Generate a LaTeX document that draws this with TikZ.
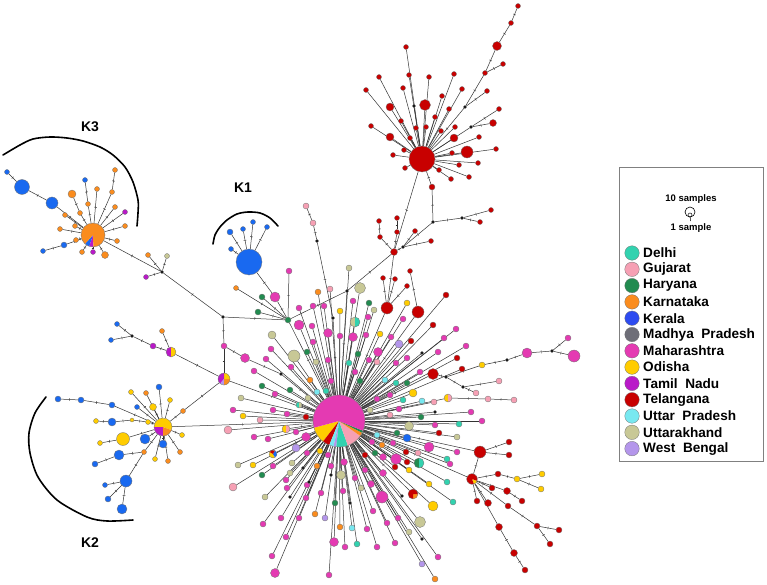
\documentclass[tikz,border=0pt]{standalone}
\usepackage{fontspec}
\setmainfont{Liberation Sans}
\usetikzlibrary{decorations.markings}
\pgfdeclarelayer{back}
\pgfdeclarelayer{bg}
\pgfsetlayers{back,bg,main}
\definecolor{mh}{RGB}{228,58,178}
\definecolor{tn}{RGB}{200,200,150}
\definecolor{gr}{RGB}{34,139,80}
\definecolor{pk}{RGB}{246,160,180}
\definecolor{yl}{RGB}{255,204,0}
\definecolor{tl}{RGB}{50,210,175}
\definecolor{cy}{RGB}{120,232,240}
\definecolor{lv}{RGB}{180,150,235}
\definecolor{rd}{RGB}{200,0,0}
\definecolor{og}{RGB}{250,140,30}
\definecolor{bl}{RGB}{25,105,240}
\definecolor{pu}{RGB}{185,25,200}
\definecolor{gy}{RGB}{110,110,120}
\definecolor{lgk}{RGB}{45,75,240}
\tikzset{
 nd/.style={circle,inner sep=0pt,draw=black!55,line width=0.3pt},
 ln/.style={draw=black!80,line width=0.5pt},
 lnt/.style={ln,postaction={decorate,decoration={markings,mark=at position 0.5 with {\draw[black!80,line width=0.4pt] (0,-1.4pt)--(0,1.4pt);}}}},
 arcline/.style={line width=1.6pt,line cap=round},
 klab/.style={font=\bfseries\fontsize{14}{16}\selectfont},
 legt/.style={anchor=west,font=\bfseries\fontsize{13.6}{15}\selectfont,inner sep=0pt},
 smallt/.style={font=\bfseries\fontsize{9.5}{11}\selectfont,inner sep=0pt},
}
\newcommand\hnode[5]{\node[nd,fill=#5,minimum size={2*#4}] (#1) at (#2,#3) {};}
\newcommand\hpie[5]{%
 \node[nd,draw=none,minimum size={2*#4}] (#1) at (#2,#3) {};
 \foreach \sa/\ea/\cc in {#5}{\fill[\cc] (#2,#3) -- ++(\sa:#4pt) arc[start angle=\sa,end angle=\ea,radius=#4pt] -- cycle;}
 \draw[black!55,line width=0.3pt] (#2,#3) circle[radius=#4pt];}
\def\mainlist{%
299/308/3/mh,313/306/3/mh,324/306/3/mh,318/292/3/og,330/289/3/pk,353/301/3/mh,340/311/3/yl,369/303/3/gr,374/310/3/tn,360/288/5.5/tn,349/268/3/tn,299/325/5/mh,312/326/3/mh,328/333/4.5/mh,368/317/3/mh,272/335/4/tn,313/342/3/mh,340/336/3/mh,353/337/4.5/mh,366/335/3/mh,380/334/3/yl,391/337/3/mh,399/344/4/lv,411/341/3/rd,444/338/3/mh,433/325/3/rd,403/319/3/mh,407/303/3/yl,%
266/359/3/mh,294/356/6/tn,307/352/3/gr,316/362/3/tn,328/360/3/mh,349/363/3/tl,358/354/3/gr,369/360/3/mh,378/352/4.5/mh,377/362/3/pk,396/363/3/mh,407/358/3/mh,438/352/3/mh,254/371/3/mh,291/367/3/mh,310/380/3/og,317/392/3/cy,326/391/3/tl,331/381/3/mh,355/372/3/mh,360/381/3/gr,385/380/3/cy,396/383/3/tl,407/383/3/gr,420/372/3/mh,262/386/3/gr,275/394/3/mh,290/390/3/gr,308/398/3/tn,377/399/3/mh,390/395/3/mh,403/400/3/tl,413/393/4/yl,422/401/3/cy,434/402/3/pk,370/410/3/tn,390/415/3/pk,399/409/3/mh,409/426/4.5/tn,421/417/3/gr,435/425/3/mh,260/420/3/pk,287/414/3/mh,306/417/3/rd,254/437/3/mh,268/439/3/mh,296/432/3/mh,306/437/4.5/mh,296/448/4/lv,253/465/3/yl,377/435/3/cy,397/433/3/gr,407/438/4/bl,429/447/5/mh,418/453/3/pk,447/459/3/tl,447/482/3/tl,383/457/3.5/mh,396/459/5.5/mh,365/455/3/rd,375/453/3/gr,407/462/3/rd,320/451/3/yl,292/463/3/tn,317/466/3/og,328/455/3/mh,344/462/3.5/mh,341/475/4.5/tn,355/478/3/mh,365/470/3/mh,383/473/3.5/mh,286/480/3/mh,262/475/3/gr,382/497/6/mh,429/484/3/yl,433/506/5/yl,%
273/466/3/mh,290/473/3/tn,307/453/3/mh,372/442/3/mh,382/445/3/og,393/443/3/mh,395/467/3/rd,406/452/3/rd,409/470/3/yl,331/466/3/mh,371/484/3.5/mh,361/488/3/tn,343/491/3/mh,321/493/3/mh,335/503/3/gr,307/485/3/mh,287/488/3/mh,265/497/3/tn,306/498/3/mh,420/522/5.5/tn,409/532/3/tn,398/518/3/mh,387/523/3/mh,373/511/3/mh,367/529/3/mh,377/547/3/mh,395/543/3/mh,357/544/3/tl,352/528/3/cy,345/547/3/mh,340/527/3/og,334/542/4.5/mh,329/575/3/mh,325/518/3/lv,315/514/3/og,299/518/3/mh,281/518/3/mh,263/524/3/mh,286/537/3/mh,272/556/3/mh,275/573/4.5/mh,422/564/3/lv,438/557/3/mh,435/579/3/og,%
271/349/3/mh,241/398/3/tn,233/410/3/mh,273/410/3/mh,243/416/3/yl,228/430/4/pk,238/465/3/tn,233/487/4/pk,%
446/295/3/rd,456/329/3/mh,466/346/3/mh,457/358/3/rd,462/369/3/rd,459/424/3/tl,471/412/3/mh,482/421/3/mh,457/437/3/tn,439/433/3/rd,457/452/3/mh,450/464/3/mh,453/502/3/tl,%
303/468/1.6/black,309/482/1.6/black,290/497/1.6/black,331/475/1.6/black,350/503/1.6/black,402/496/1.6/black,422/539/1.6/black,422/353/1.6/black,435/412/1.6/black}
\def\northlist{406/47/2.5/rd,409/75/2.5/rd,429/77/2.5/rd,454/74/2.5/rd,462/89/2.5/rd,379/77/2.5/rd,366/90/2.5/rd,403/88/2.5/rd,390/107/4/rd,425/105/5.5/rd,442/96/2.5/rd,449/109/2.5/rd,435/117/2.5/rd,401/121/2.5/rd,371/126/2.5/rd,390/137/4/rd,416/128/2.5/rd,426/127/2.5/rd,441/131/2.5/rd,410/138/2.5/rd,404/150/2.5/rd,393/155/2.5/rd,405/168/2.5/rd,479/137/2.5/rd,496/149/2.5/rd,467/152/6/rd,454/138/4/rd,452/153/2.5/rd,478/163/2.5/rd,459/165/2.5/rd,469/177/2.5/rd,451/179/2.5/rd,439/170/2.5/rd,455/127/2.5/rd,414/106/1.6/black}
\begin{document}
\begin{tikzpicture}[x=1pt,y=-1pt]
\begin{pgfonlayer}{back}\fill[white] (0,0) rectangle (767,585);\end{pgfonlayer}
\useasboundingbox (0,0) rectangle (767,585);
% main hub and pies
\hpie{H}{339}{421}{26}{195/232/yl,232/248/rd,248/258/cy,258/264/lv,264/290/tl,290/325/pk,325/333/og,333/338/gr,338/555/mh}
\hpie{q1}{286}{429}{4}{90/270/yl,270/450/pk}
\hpie{q2}{273}{454}{4}{150/300/yl,300/420/bl,60/150/rd}
\hpie{q3}{355}{322}{5}{90/270/tn,270/450/tl}
\hpie{q4}{299}{405}{3}{90/270/tl,270/450/tn}
\hpie{q5}{413}{494}{5}{-90/0/og,0/270/rd}
\hpie{q6}{419}{463}{5}{90/270/gr,270/450/tl}
\hpie{q7}{448}{398}{4}{90/270/yl,270/450/pk}
\foreach \x/\y/\r/\c [count=\i] in \mainlist {\node[nd,fill=\c,minimum size={2*\r}] (m\i) at (\x,\y) {};}
% K3
\hpie{K3h}{93}{235}{12}{228/252/bl,252/272/pu,272/588/og}
\hnode{a1}{7}{172}{2.5}{bl}\hnode{a2}{22}{187}{7.5}{bl}\hnode{a3}{52}{203}{6}{bl}
\hnode{a4}{115}{170}{2.5}{og}\hnode{a5}{112}{192}{2.5}{og}\hnode{a6}{97}{189}{2.5}{og}
\hnode{a7}{85}{180}{2.5}{bl}\hnode{a8}{88}{204}{2.5}{og}\hnode{a9}{72}{194}{4}{og}
\hnode{a10}{80}{213}{2.5}{og}\hnode{a11}{115}{207}{2.5}{og}\hnode{a12}{125}{212}{2.5}{pu}
\hnode{a13}{65}{215}{2.5}{og}\hnode{a14}{75}{226}{2.5}{og}\hnode{a15}{60}{229}{2.5}{og}
\hnode{a16}{125}{226}{2.5}{og}\hnode{a17}{76}{240}{2.5}{og}\hnode{a18}{117}{241}{2.5}{og}
\hnode{a19}{82}{252}{2.5}{og}\hnode{a20}{93}{252}{2.5}{pu}\hnode{a21}{105}{255}{3.5}{og}
\hnode{a22}{64}{245}{3}{bl}\hnode{a23}{43}{251}{2.5}{bl}
\hnode{b1}{162}{272}{1.6}{black}
\hnode{a24}{148}{255}{2.5}{og}\hnode{a25}{167}{256}{2.5}{tn}\hnode{a26}{146}{277}{2.5}{pu}
\hnode{b2}{223}{317}{1.6}{black}
% K1
\hnode{K1h}{249}{262}{13}{bl}
\hnode{c1}{230}{232}{3}{bl}\hnode{c2}{231}{249}{2.5}{bl}\hnode{c3}{243}{229}{2.5}{bl}
\hnode{c4}{253}{222}{2.5}{bl}\hnode{c5}{267}{227}{2.5}{bl}
\hnode{c6}{275}{297}{5}{mh}\hnode{J2}{288}{320}{3}{gr}
\hnode{c7}{236}{288}{2.5}{og}\hnode{c8}{262}{297}{3}{gr}\hnode{c9}{258}{312}{3}{gr}\hnode{c10}{289}{271}{3}{mh}
\hnode{b3}{347}{291}{1.6}{black}
% north
\hnode{R1}{394}{252}{3.5}{rd}
\hnode{d1}{379}{221}{2.5}{rd}\hnode{d2}{397}{218}{2.5}{rd}\hnode{d3}{397}{232}{2.5}{rd}\hnode{d4}{380}{237}{2.5}{rd}
\hnode{R2}{387}{308}{6}{rd}
\hnode{d5}{383}{278}{2.5}{rd}\hnode{d6}{395}{279}{2.5}{rd}\hnode{d7}{407}{286}{2.5}{rd}
\hnode{R3}{418}{312}{6}{rd}\hnode{d8}{410}{271}{2.5}{rd}
\hnode{d9}{432}{187}{3}{rd}\hnode{b4}{433}{222}{1.6}{black}\hnode{b5}{403}{247}{1.6}{black}
\hnode{d10}{415}{231}{2.5}{rd}\hnode{d11}{431}{241}{2.5}{rd}
\hnode{b6}{462}{218}{1.6}{black}\hnode{d12}{491}{210}{2.5}{rd}\hnode{d13}{480}{222}{2.5}{rd}
\hnode{e1}{306}{206}{3}{pk}\hnode{e2}{313}{223}{3}{pk}\hnode{b7}{317}{241}{1.6}{black}\hnode{b8}{333}{318}{1.6}{black}
\hnode{NH}{422}{159}{13}{rd}
\foreach \x/\y/\r/\c [count=\i] in \northlist {\node[nd,fill=\c,minimum size={2*\r}] (n\i) at (\x,\y) {};}
\hnode{h1}{518}{6}{2.5}{rd}\hnode{h2}{511}{23}{2.5}{rd}\hnode{h3}{497}{46}{4.5}{rd}
\hnode{h4}{503}{64}{2.5}{rd}\hnode{h5}{485}{73}{2.5}{rd}\hnode{b11}{465}{107}{1.6}{black}
\hnode{h6}{487}{91}{2.5}{rd}\hnode{b12}{471}{127}{1.6}{black}\hnode{h7}{499}{109}{2.5}{rd}\hnode{h8}{493}{123}{3.5}{rd}
% P1 and K2
\hpie{P1}{224}{379}{6}{0/90/yl,90/230/pu,230/270/lv,270/360/og}
\hpie{P2}{171}{352}{5}{90/270/pu,270/450/yl}
\hnode{f1}{224}{346}{3}{mh}\hnode{f2}{153}{346}{3}{pu}\hnode{b9}{132}{336}{1.6}{black}
\hnode{f3}{117}{324}{2.5}{bl}\hnode{f4}{111}{340}{2.5}{bl}\hnode{f5}{162}{331}{2.5}{og}
\hnode{f6}{183}{411}{2.5}{og}\hnode{f7}{245}{358}{4.5}{mh}\hnode{b10}{281}{374}{1.6}{black}
\hpie{K2h}{163}{427}{9}{340/540/yl,180/270/pu,270/340/og}
\hnode{g1}{96}{421}{2.5}{yl}\hnode{g2}{112}{422}{4}{bl}\hnode{g3}{132}{420}{2}{yl}\hnode{g4}{148}{422}{2.5}{yl}
\hnode{g5}{131}{392}{2.5}{yl}\hnode{g6}{146}{393}{2.5}{og}\hnode{g7}{159}{387}{3}{bl}\hnode{g8}{170}{400}{2.5}{yl}
\hnode{g9}{137}{407}{2.5}{bl}\hnode{g10}{153}{407}{3.5}{yl}\hnode{g11}{123}{439}{6.5}{yl}\hnode{g12}{100}{443}{2.5}{yl}
\hnode{g13}{145}{439}{5}{bl}\hnode{g14}{163}{444}{4}{bl}\hnode{g15}{182}{435}{2.5}{yl}\hnode{g16}{180}{452}{2.5}{og}
\hnode{g17}{155}{459}{2.5}{yl}\hnode{g18}{168}{461}{2.5}{og}\hnode{g19}{144}{452}{2.5}{og}\hnode{g20}{126}{481}{6}{bl}
\hnode{g21}{105}{485}{2.5}{bl}\hnode{g22}{108}{499}{3}{bl}\hnode{g23}{122}{509}{5}{bl}\hnode{g24}{119}{455}{5}{bl}
\hnode{g25}{95}{464}{3}{bl}\hnode{g26}{58}{399}{3}{bl}\hnode{g27}{81}{400}{3}{bl}\hnode{g28}{112}{405}{3}{bl}
% right
\hnode{i1}{433}{374}{5.5}{rd}\hnode{b13}{446}{377}{1.6}{black}\hnode{i2}{482}{365}{3}{yl}
\hnode{b14}{507}{360}{1.6}{black}\hnode{i3}{527}{353}{5}{mh}\hnode{b15}{552}{351}{1.6}{black}
\hnode{i4}{574}{356}{6}{mh}\hnode{i5}{568}{338}{3}{mh}\hnode{b16}{463}{387}{1.6}{black}
\hnode{i6}{499}{381}{3}{pk}\hnode{i7}{476}{393}{3}{pk}\hnode{i8}{488}{399}{3}{pk}\hnode{i9}{514}{400}{3}{pk}
% lower Telangana
\hnode{T1}{480}{452}{6}{rd}
\hpie{T2}{472}{479}{5.5}{-70/-20/yl,-20/290/rd}
\hnode{j1}{509}{442}{3}{rd}\hnode{j2}{509}{455}{3}{rd}\hnode{j3}{498}{474}{3}{rd}\hnode{j4}{517}{479}{3}{yl}
\hnode{j5}{542}{474}{3}{yl}\hnode{j6}{541}{489}{3}{yl}\hnode{j7}{492}{488}{3}{rd}\hnode{j8}{507}{491}{3.5}{rd}
\hnode{j9}{522}{501}{3}{rd}\hnode{j10}{477}{501}{3}{rd}\hnode{j11}{488}{503}{3.5}{rd}\hnode{j12}{508}{506}{3}{rd}
\hnode{j13}{537}{526}{3}{rd}\hnode{j14}{559}{530}{3}{rd}\hnode{j15}{550}{544}{3}{rd}\hnode{j16}{499}{527}{3.5}{rd}
\hnode{j17}{514}{553}{3.5}{rd}\hnode{j18}{525}{570}{3}{rd}
% edges
\begin{pgfonlayer}{bg}
\foreach \x/\y/\r/\c [count=\i] in \mainlist {\draw[ln] (H) -- (m\i);}
\foreach \x/\y/\r/\c [count=\i] in \northlist {\draw[ln] (NH) -- (n\i);}
\foreach \a/\b in {H/q1,H/q2,H/q3,H/q4,H/q5,H/q6,H/q7,
 K3h/a3,a3/a2,a2/a1,K3h/a5,a5/a4,K3h/a6,K3h/a8,a8/a7,K3h/a10,a10/a9,K3h/a11,K3h/a12,K3h/a13,K3h/a14,K3h/a15,K3h/a16,K3h/a17,K3h/a18,K3h/a19,K3h/a20,K3h/a21,K3h/a22,a22/a23,
 K3h/b1,b1/a24,b1/a25,b1/a26,b1/b2,b2/J2,b2/f1,f1/P1,f1/f7,f7/b10,b10/H,P1/H,P1/P2,P2/f2,f2/b9,b9/f3,b9/f4,P2/f5,P1/f6,f6/K2h,K2h/H,
 K1h/c1,K1h/c2,K1h/c3,K1h/c4,K1h/c5,K1h/c6,c6/J2,J2/c7,J2/c8,J2/c9,J2/c10,J2/H,J2/b3,b3/H,b3/R1,R1/NH,
 d1/d4,d4/R1,d2/d3,d3/R1,R1/R2,R2/d5,R2/d6,R2/d7,R2/H,R3/H,R3/d8,NH/d9,d9/b4,b4/b5,b5/R1,b5/d10,b5/d11,b4/b6,b6/d12,b6/d13,
 e1/e2,e2/b7,b7/b8,b8/H,
 g1/g2,g2/g3,g3/g4,g4/K2h,K2h/g5,K2h/g6,K2h/g7,K2h/g8,K2h/g9,K2h/g10,g12/g11,g11/K2h,g13/K2h,g14/K2h,g15/K2h,g16/K2h,g17/K2h,g18/K2h,g19/K2h,g24/g19,g25/g24,g20/g19,g21/g20,g22/g20,g23/g20,g26/g27,g27/g28,g28/K2h,
 NH/b11,b11/h5,h5/h3,h3/h2,h2/h1,h5/h4,b11/h6,NH/b12,b12/h7,b12/h8,
 H/i1,i1/b13,b13/i2,i2/b14,b14/i3,i3/b15,b15/i4,b15/i5,b13/b16,b16/i6,b16/i7,q7/i8,i8/i9,
 H/T1,H/T2,T1/T2,T1/j1,T1/j2,T2/j3,j3/j4,j4/j5,j4/j6,T2/j7,T2/j8,j8/j9,T2/j10,T2/j11,T2/j12,j12/j13,j13/j14,j13/j15,T2/j16,j16/j17,j17/j18}
 {\draw[lnt] (\a) -- (\b);}
\end{pgfonlayer}
% cluster arcs and labels
\draw[arcline] plot[smooth] coordinates {(3,155) (20,145) (33,139) (50,137) (67,138) (83,141) (100,147) (113,155) (125,167) (133,182) (138,200) (138,213) (137,226)};
\draw[arcline] plot[smooth] coordinates {(213,244) (215,235) (220,227) (227,220) (237,214) (248,212) (260,213) (270,218) (278,226)};
\draw[arcline] plot[smooth] coordinates {(46,397) (35,413) (29,433) (30,453) (38,477) (57,500) (87,517) (107,521) (133,520)};
\node[klab] (k3) at (90,127) {K3};
\node[klab] (k1) at (243,188) {K1};
\node[klab] (k2) at (90,543) {K2};
% legend
\draw[black!50,line width=0.8pt] (619,167) rectangle (763,461);
\node[smallt] (s10) at (691,199) {10 samples};
\node[circle,draw,inner sep=0pt,minimum size=10pt,line width=0.6pt] (sc1) at (690,212) {};
\node[circle,draw,inner sep=0pt,minimum size=4pt,line width=0.5pt] (sc2) at (690,215) {};
\coordinate (sc3) at (690.5,221);
\draw[line width=0.5pt] (sc2) -- (sc3);
\node[smallt] (s1) at (691,228) {1 sample};
\foreach \c/\t [count=\i] in {tl/Delhi,pk/Gujarat,gr/Haryana,og/Karnataka,lgk/Kerala,gy/Madhya~~Pradesh,mh/Maharashtra,yl/Odisha,pu/Tamil~~Nadu,rd/Telangana,cy/Uttar~~Pradesh,tn/Uttarakhand,lv/West~~Bengal}
{\node[nd,fill=\c,minimum size=14.5pt] (lg\i) at (632,{253+(\i-1)*16.3}) {};
 \node[legt] (lt\i) at (643,{253+(\i-1)*16.3}) {\t};}
\end{tikzpicture}
\end{document}
